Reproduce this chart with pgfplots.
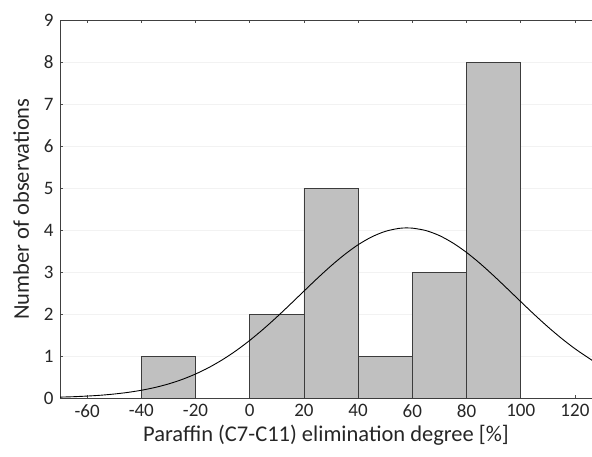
\documentclass[border=0pt]{standalone}
\usepackage{pgfplots}
\pgfplotsset{compat=1.18}
\usepackage{fontspec}
\setmainfont{Carlito}
\definecolor{barfill}{RGB}{192,192,192}
\definecolor{baredge}{RGB}{60,60,60}
\begin{document}
\begin{tikzpicture}
\begin{axis}[
  at={(0,0)}, anchor=south west,
  scale only axis, width=532bp, height=378bp,
  xmin=-70, xmax=126.3, ymin=0, ymax=9,
  axis x line=box, axis y line=left,
  axis line style={draw=black!75, line width=0.8pt, -},
  xtick={-60,-40,...,120}, ytick={0,1,...,9},
  tick align=inside, major tick length=3bp,
  tick style={black!70, line width=0.6pt},
  xtick pos=both,
  ymajorgrids, grid style={black!5, line width=0.6pt},
  /pgf/number format/assume math mode=true,
  yticklabel style={font=\fontsize{19bp}{22bp}\selectfont, text=black!85, xshift=-3bp},
  xticklabel style={font=\fontsize{19bp}{22bp}\selectfont, text=black!85, yshift=-3bp},
  xlabel={Paraffin (C7-C11) elimination degree [\%]},
  ylabel={Number of observations},
  label style={font=\fontsize{22.5bp}{25bp}\selectfont, text=black!85},
  xlabel style={yshift=-1bp},
  ylabel style={yshift=8bp},
  clip=true,
]
\addplot[ybar interval, fill=barfill, draw=baredge, line width=0.8pt] coordinates {
(-40,1) (-20,0) (0,2) (20,5) (40,1) (60,3) (80,8) (100,8)
};
\addplot[black, line width=0.9pt, smooth, no marks] coordinates {
(-70,0.021) (-65,0.031) (-60,0.046) (-55,0.066) (-50,0.095) (-45,0.133)
(-40,0.184) (-35,0.250) (-30,0.334) (-25,0.440) (-20,0.571) (-15,0.728)
(-10,0.914) (-5,1.128) (0,1.371) (5,1.639) (10,1.928) (15,2.233)
(20,2.544) (25,2.852) (30,3.146) (35,3.415) (40,3.649) (45,3.835)
(50,3.967) (55,4.038) (58,4.050) (60,4.045) (65,3.987) (70,3.867)
(75,3.690) (80,3.466) (85,3.203) (90,2.912) (95,2.606) (100,2.295)
(105,1.988) (110,1.695) (115,1.422) (120,1.174) (125,0.954) (127,0.870)
};
\end{axis}
\pgfresetboundingbox
\path (-60bp,-59bp) rectangle (532bp,398bp);
\end{tikzpicture}
\end{document}
